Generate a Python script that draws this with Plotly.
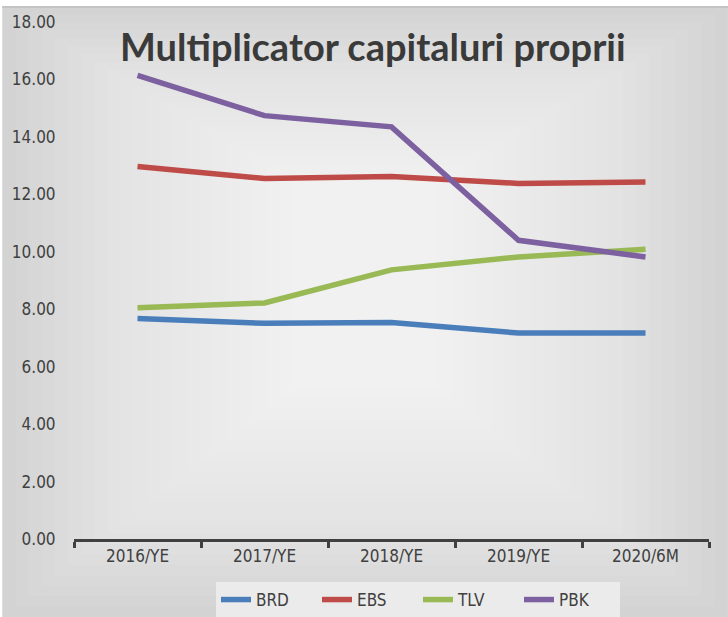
import plotly.graph_objects as go

categories = ["2016/YE", "2017/YE", "2018/YE", "2019/YE", "2020/6M"]
brd = [7.68, 7.51, 7.54, 7.17, 7.17]
ebs = [12.97, 12.55, 12.62, 12.38, 12.43]
tlv = [8.05, 8.22, 9.37, 9.82, 10.09]
pbk = [16.14, 14.74, 14.35, 10.40, 9.82]
y_ticks = [0, 2, 4, 6, 8, 10, 12, 14, 16, 18]
y_tick_labels = [f"{v:.2f}" for v in y_ticks]

series = [("BRD", brd, "#4a7ebb"), ("EBS", ebs, "#be4b48"),
          ("TLV", tlv, "#98b954"), ("PBK", pbk, "#7d60a0")]

W, H = 728, 617
ML, MR, MT, MB = 72, 19, 22, 78
PW, PH = W - ML - MR, H - MT - MB
FONT = "DejaVu Sans Condensed, Liberation Sans, sans-serif"


def px(x):
    return (x - ML) / PW


def py(y):
    return (H - MB - y) / PH


fig = go.Figure()
for name, vals, col in series:
    fig.add_trace(go.Scatter(x=categories, y=vals, name=name, mode="lines",
                             line=dict(color=col, width=5.5)))

shapes = []
shapes.append(dict(type="rect", xref="paper", yref="paper", layer="below",
                   x0=px(0), x1=px(W), y0=py(H), y1=py(6),
                   fillcolor="#d3d3d3", line=dict(width=0)))
n = 24
for i in range(1, n + 1):
    f = i / (n + 1)
    x0 = f * 330
    x1 = W - f * 330
    y0 = 6 + f * 200
    y1 = H - f * 260
    shapes.append(dict(type="rect", xref="paper", yref="paper", layer="below",
                       x0=px(x0), x1=px(x1), y0=py(y1), y1=py(y0),
                       fillcolor="rgba(255,255,255,0.065)", line=dict(width=0)))
shapes.append(dict(type="line", xref="paper", yref="paper", layer="below",
                   x0=px(0), x1=px(W), y0=py(7), y1=py(7),
                   line=dict(color="#c4c4c4", width=2)))

fig.update_layout(
    width=W, height=H,
    margin=dict(l=ML, r=MR, t=MT, b=MB),
    paper_bgcolor="white", plot_bgcolor="rgba(0,0,0,0)",
    shapes=shapes,
    showlegend=True,
    legend=dict(orientation="h", xref="container", yref="container",
                x=418 / W, xanchor="center",
                y=1 - 600 / H, yanchor="middle",
                bgcolor="#ebebeb", borderwidth=0,
                font=dict(family=FONT, size=17, color="#404040"),
                entrywidth=56, entrywidthmode="pixels",
                itemwidth=30, tracegroupgap=0),
    annotations=[dict(text="<b>Multiplicator capitaluri proprii</b>",
                      xref="paper", yref="paper", x=px(372), y=py(46),
                      xanchor="center", yanchor="middle", showarrow=False,
                      font=dict(family="Lato", size=38, color="#3a3a3a"))],
    xaxis=dict(type="category", showgrid=False, zeroline=False,
               showline=True, linecolor="#404040", linewidth=2.5,
               ticks="outside", tickson="boundaries", ticklen=6, tickwidth=2.5,
               tickcolor="#404040",
               tickfont=dict(family=FONT, size=17, color="#404040"),
               range=[-0.5, 4.5]),
    yaxis=dict(range=[0, 18], tickvals=y_ticks, ticktext=y_tick_labels,
               showgrid=False, zeroline=False, showline=False,
               ticks="outside", ticklen=14, tickcolor="rgba(0,0,0,0)",
               tickfont=dict(family=FONT, size=17, color="#404040")),
)

fig.write_html("out.html", config={"displayModeBar": False},
               post_script="document.body.style.margin='0';document.body.style.padding='0';")
